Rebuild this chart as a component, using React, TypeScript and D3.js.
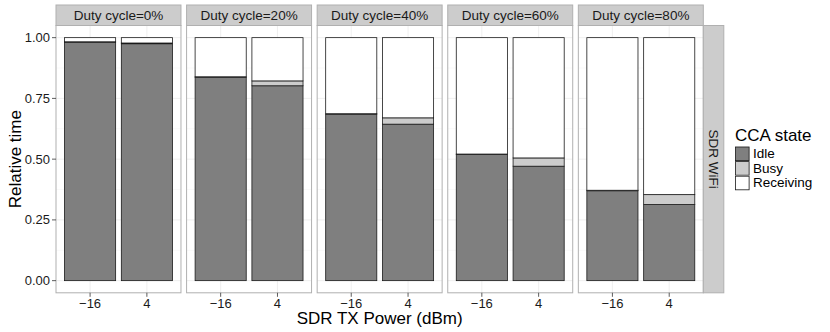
import * as d3 from "d3";

// facet labels and x categories
const dutyCycles = ["0%", "20%", "40%", "60%", "80%"];
const txPowers = ["-16", "4"];
const txPowerLabels = ["\u221216", "4"];
const states = ["Idle", "Busy", "Receiving"];
const yTicks = [0, 0.25, 0.5, 0.75, 1];
const yTickLabels = ["0.00", "0.25", "0.50", "0.75", "1.00"];

// relative time per duty cycle, one array per TX power
const idleLow = [0.981, 0.837, 0.685, 0.519, 0.37];
const idleHigh = [0.975, 0.802, 0.644, 0.471, 0.313];
const busyLow = [0.002, 0.002, 0.002, 0.002, 0.002];
const busyHigh = [0.003, 0.02, 0.026, 0.034, 0.041];
const recvLow = [0.017, 0.161, 0.313, 0.479, 0.628];
const recvHigh = [0.022, 0.178, 0.33, 0.495, 0.646];

const colors: Record<string, string> = { Idle: "#7f7f7f", Busy: "#cccccc", Receiving: "#ffffff" };
const FONT = "Arial, 'Liberation Sans', Helvetica, sans-serif";

const W = 830, H = 332;
const plotLeft = 56, plotRight = 703.3;
const panelTop = 25.5, panelBottom = 292.8;

export default function App() {
  const facetX = d3.scaleBand<string>().domain(dutyCycles).range([plotLeft, plotRight]).paddingInner(0.043);
  const pw = facetX.bandwidth();
  const x = d3.scaleBand<string>().domain(txPowers).range([0, pw]).paddingInner(0.1).paddingOuter(0.15);
  const y = d3.scaleLinear().domain([-0.05, 1.05]).range([panelBottom, panelTop]);

  const rows = dutyCycles.map((d, i) =>
    txPowers.map((p, j) => ({
      duty: d,
      power: p,
      Idle: j === 0 ? idleLow[i] : idleHigh[i],
      Busy: j === 0 ? busyLow[i] : busyHigh[i],
      Receiving: j === 0 ? recvLow[i] : recvHigh[i],
    }))
  );
  const stack = d3.stack<any>().keys(states);
  const minor = [0.125, 0.375, 0.625, 0.875];

  return (
    <svg width={W} height={H} style={{ position: "absolute", left: 0, top: 0, fontFamily: FONT }}>
      <rect width={W} height={H} fill="#fff" />
      {dutyCycles.map((d, i) => {
        const px = facetX(d)!;
        const series = stack(rows[i]);
        return (
          <g key={d} transform={`translate(${px},0)`}>
            <rect x={0} y={panelTop} width={pw} height={panelBottom - panelTop} fill="#fff" />
            {minor.map((t) => (
              <line key={t} x1={0} x2={pw} y1={y(t)} y2={y(t)} stroke="#f7f7f7" strokeWidth={0.8} />
            ))}
            {yTicks.map((t) => (
              <line key={t} x1={0} x2={pw} y1={y(t)} y2={y(t)} stroke="#ebebeb" strokeWidth={0.8} />
            ))}
            {txPowers.map((p) => (
              <line key={p} x1={x(p)! + x.bandwidth() / 2} x2={x(p)! + x.bandwidth() / 2} y1={panelTop} y2={panelBottom} stroke="#ebebeb" strokeWidth={0.8} />
            ))}
            {series.map((s) =>
              s.map((seg, j) => (
                <rect
                  key={s.key + j}
                  x={x(txPowers[j])}
                  y={y(seg[1])}
                  width={x.bandwidth()}
                  height={y(seg[0]) - y(seg[1])}
                  fill={colors[s.key]}
                  stroke="#1a1a1a"
                  strokeWidth={0.8}
                />
              ))
            )}
            <rect x={0} y={panelTop} width={pw} height={panelBottom - panelTop} fill="none" stroke="#b0b0b0" strokeWidth={1} />
            {/* strip */}
            <rect x={0} y={5} width={pw} height={panelTop - 5} fill="#cccccc" stroke="#b0b0b0" strokeWidth={1} />
            <text x={pw / 2} y={20} textAnchor="middle" fontSize={13.5} fill="#1a1a1a">{`Duty cycle=${d}`}</text>
            {/* x axis */}
            {txPowers.map((p, j) => {
              const cx = x(p)! + x.bandwidth() / 2;
              return (
                <g key={p}>
                  <line x1={cx} x2={cx} y1={panelBottom} y2={panelBottom + 4} stroke="#333" strokeWidth={0.8} />
                  <text x={cx} y={307.5} textAnchor="middle" fontSize={13} fill="#1a1a1a">{txPowerLabels[j]}</text>
                </g>
              );
            })}
          </g>
        );
      })}
      {/* y axis */}
      {yTicks.map((t, i) => (
        <g key={t}>
          <line x1={plotLeft - 4} x2={plotLeft} y1={y(t)} y2={y(t)} stroke="#333" strokeWidth={0.8} />
          <text x={plotLeft - 6} y={y(t) + 4.5} textAnchor="end" fontSize={13} fill="#1a1a1a">{yTickLabels[i]}</text>
        </g>
      ))}
      {/* right strip */}
      <rect x={plotRight} y={panelTop} width={20.5} height={panelBottom - panelTop} fill="#cccccc" stroke="#b0b0b0" strokeWidth={1} />
      <text transform={`translate(${plotRight + 6},${(panelTop + panelBottom) / 2}) rotate(90)`} textAnchor="middle" fontSize={13.5} fill="#1a1a1a">SDR WiFi</text>
      {/* axis titles */}
      <text x={(plotLeft + plotRight) / 2} y={324} textAnchor="middle" fontSize={17}>SDR TX Power (dBm)</text>
      <text transform={`translate(21,${(panelTop + panelBottom) / 2}) rotate(-90)`} textAnchor="middle" fontSize={17}>Relative time</text>
      {/* legend */}
      <text x={735} y={141} fontSize={17}>CCA state</text>
      {states.map((s, i) => (
        <g key={s} transform={`translate(735,${146.5 + i * 14.6})`}>
          <rect width={14.6} height={14.6} fill="#f2f2f2" />
          <rect x={0.5} y={0.5} width={13.6} height={13.6} fill={colors[s]} stroke="#1a1a1a" strokeWidth={0.8} />
          <text x={18} y={11.5} fontSize={13.5}>{s}</text>
        </g>
      ))}
    </svg>
  );
}
